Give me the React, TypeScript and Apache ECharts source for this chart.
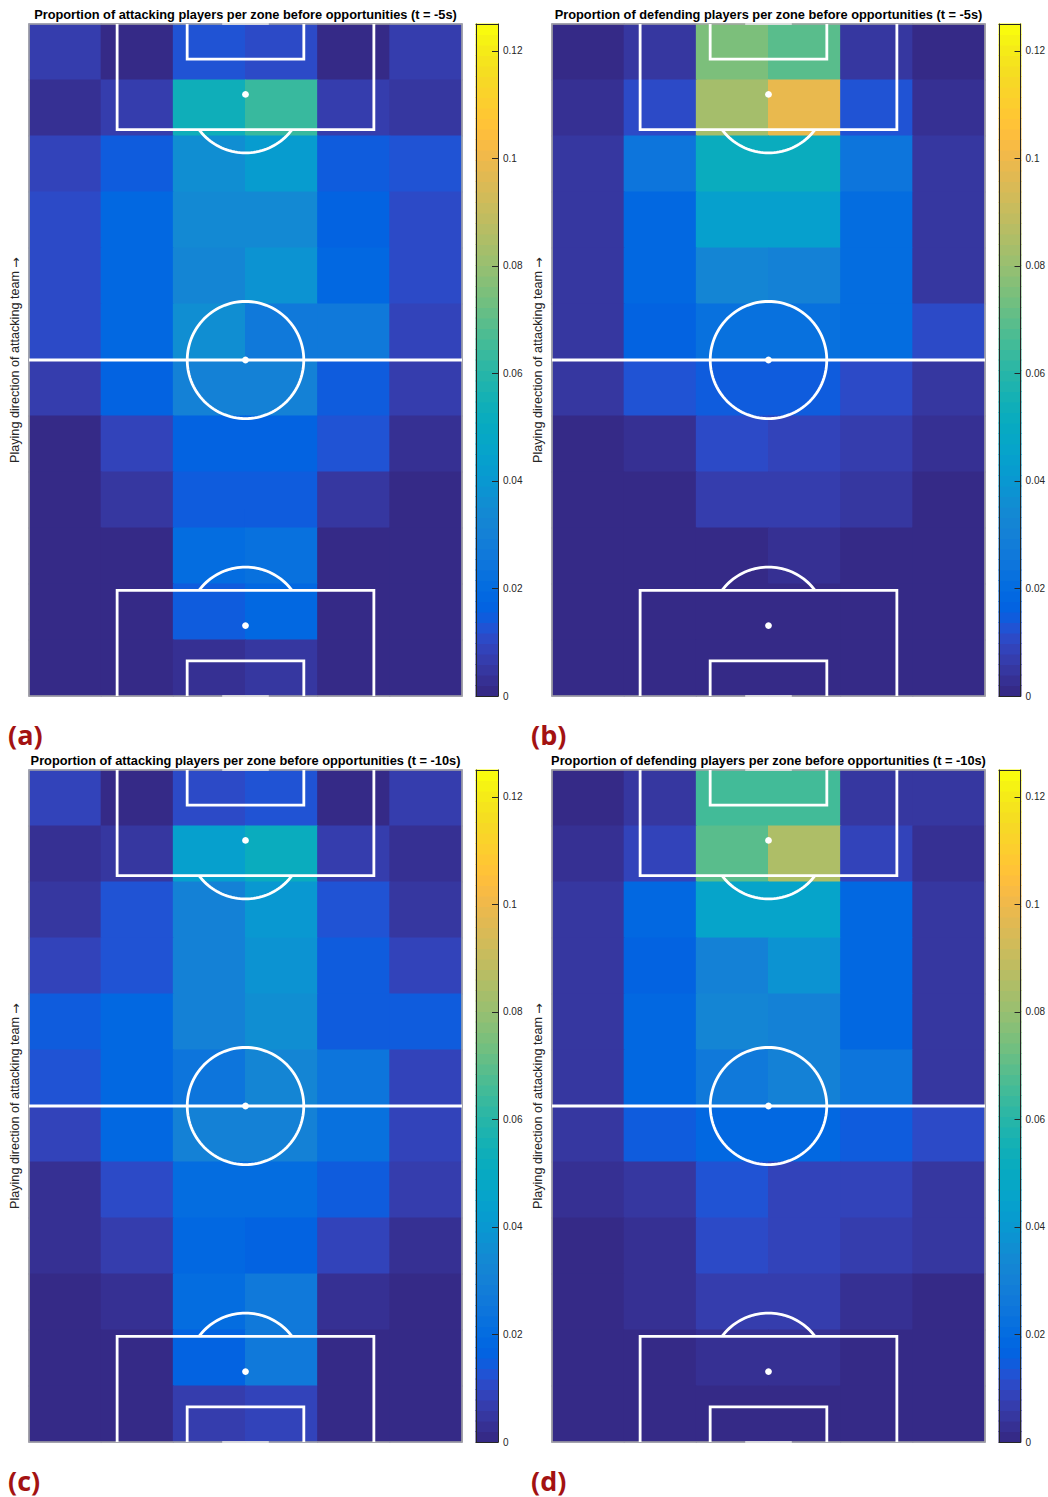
import React, { useEffect, useRef } from "react";
import * as echarts from "echarts";

// Zones across the pitch (left touchline -> right touchline)
const ZONE_COLUMNS = ["1", "2", "3", "4", "5", "6"];
// Zones along the pitch, listed from the opposition goal (top) to the own goal (bottom)
const ZONE_ROW_COUNT = 12;

const attackers5s = [
  [0.007, 0.001, 0.013, 0.011, 0.001, 0.007],
  [0.002, 0.007, 0.054, 0.064, 0.007, 0.004],
  [0.009, 0.014, 0.036, 0.042, 0.014, 0.013],
  [0.011, 0.018, 0.034, 0.035, 0.017, 0.011],
  [0.011, 0.019, 0.032, 0.039, 0.018, 0.011],
  [0.011, 0.019, 0.036, 0.026, 0.026, 0.009],
  [0.006, 0.016, 0.030, 0.030, 0.014, 0.007],
  [0.001, 0.009, 0.016, 0.016, 0.013, 0.003],
  [0.001, 0.004, 0.014, 0.014, 0.005, 0.001],
  [0.001, 0.001, 0.021, 0.022, 0.001, 0.001],
  [0.001, 0.001, 0.014, 0.019, 0.001, 0.001],
  [0.001, 0.001, 0.003, 0.004, 0.001, 0.001],
];

const defenders5s = [
  [0.001, 0.004, 0.075, 0.070, 0.004, 0.001],
  [0.003, 0.011, 0.083, 0.099, 0.013, 0.003],
  [0.005, 0.024, 0.052, 0.052, 0.024, 0.005],
  [0.005, 0.018, 0.044, 0.044, 0.021, 0.005],
  [0.004, 0.018, 0.032, 0.030, 0.021, 0.004],
  [0.004, 0.016, 0.022, 0.022, 0.020, 0.010],
  [0.005, 0.013, 0.014, 0.014, 0.011, 0.004],
  [0.001, 0.003, 0.011, 0.009, 0.006, 0.003],
  [0.001, 0.001, 0.007, 0.007, 0.005, 0.001],
  [0.001, 0.001, 0.001, 0.003, 0.001, 0.001],
  [0.001, 0.001, 0.001, 0.001, 0.001, 0.001],
  [0.001, 0.001, 0.001, 0.001, 0.001, 0.001],
];

const attackers10s = [
  [0.009, 0.001, 0.011, 0.013, 0.001, 0.007],
  [0.003, 0.004, 0.043, 0.052, 0.007, 0.003],
  [0.005, 0.013, 0.030, 0.040, 0.013, 0.005],
  [0.009, 0.013, 0.030, 0.038, 0.014, 0.009],
  [0.014, 0.018, 0.030, 0.036, 0.014, 0.014],
  [0.013, 0.018, 0.024, 0.032, 0.024, 0.009],
  [0.009, 0.018, 0.030, 0.030, 0.022, 0.009],
  [0.003, 0.011, 0.021, 0.021, 0.014, 0.007],
  [0.003, 0.007, 0.018, 0.017, 0.009, 0.003],
  [0.001, 0.003, 0.021, 0.026, 0.003, 0.001],
  [0.001, 0.001, 0.016, 0.026, 0.001, 0.001],
  [0.001, 0.001, 0.006, 0.009, 0.001, 0.001],
];

const defenders10s = [
  [0.001, 0.004, 0.066, 0.066, 0.004, 0.004],
  [0.003, 0.009, 0.070, 0.085, 0.009, 0.003],
  [0.004, 0.018, 0.046, 0.046, 0.019, 0.004],
  [0.005, 0.016, 0.030, 0.038, 0.019, 0.005],
  [0.005, 0.018, 0.032, 0.030, 0.018, 0.005],
  [0.005, 0.018, 0.026, 0.030, 0.024, 0.005],
  [0.005, 0.014, 0.018, 0.018, 0.014, 0.010],
  [0.003, 0.005, 0.013, 0.009, 0.009, 0.004],
  [0.001, 0.003, 0.011, 0.008, 0.007, 0.004],
  [0.001, 0.003, 0.007, 0.007, 0.003, 0.001],
  [0.001, 0.001, 0.003, 0.003, 0.001, 0.001],
  [0.001, 0.001, 0.001, 0.001, 0.001, 0.001],
];

const PANEL_VALUES = [attackers5s, defenders5s, attackers10s, defenders10s];
const PANEL_TITLES = [
  "Proportion of attacking players per zone before opportunities (t = -5s)",
  "Proportion of defending players per zone before opportunities (t = -5s)",
  "Proportion of attacking players per zone before opportunities (t = -10s)",
  "Proportion of defending players per zone before opportunities (t = -10s)",
];
const PANEL_TAGS = ["(a)", "(b)", "(c)", "(d)"];
const Y_AXIS_NAME = "Playing direction of attacking team ";
const Y_AXIS_ARROW = "\u2192";

// Colour scale
const COLOR_MIN = 0;
const COLOR_MAX = 0.125;
const COLOR_TICK_STEP = 0.02;

// MATLAB parula, 64 entries
const PARULA: number[][] = [
  [0.2081, 0.1663, 0.5292], [0.2116, 0.1898, 0.5777], [0.2123, 0.2138, 0.627], [0.2081, 0.2386, 0.6771],
  [0.1959, 0.2645, 0.7279], [0.1707, 0.2919, 0.7792], [0.1253, 0.3242, 0.8303], [0.0591, 0.3598, 0.8683],
  [0.0117, 0.3875, 0.882], [0.006, 0.4086, 0.8828], [0.0165, 0.4266, 0.8786], [0.0329, 0.443, 0.872],
  [0.0498, 0.4586, 0.8641], [0.0629, 0.4737, 0.8554], [0.0723, 0.4887, 0.8467], [0.0779, 0.504, 0.8384],
  [0.0793, 0.52, 0.8312], [0.0749, 0.5375, 0.8263], [0.0641, 0.557, 0.824], [0.0488, 0.5772, 0.8228],
  [0.0343, 0.5966, 0.8199], [0.0265, 0.6137, 0.8135], [0.0239, 0.6287, 0.8038], [0.0231, 0.6418, 0.7913],
  [0.0228, 0.6535, 0.7768], [0.0267, 0.6642, 0.7607], [0.0384, 0.6743, 0.7436], [0.059, 0.6838, 0.7254],
  [0.0843, 0.6928, 0.7062], [0.1133, 0.7015, 0.6859], [0.1453, 0.7098, 0.6646], [0.1801, 0.7177, 0.6424],
  [0.2178, 0.725, 0.6193], [0.2586, 0.7317, 0.5954], [0.3022, 0.7376, 0.5712], [0.3482, 0.7424, 0.5473],
  [0.3953, 0.7459, 0.5244], [0.442, 0.7481, 0.5033], [0.4871, 0.7491, 0.484], [0.53, 0.7491, 0.4661],
  [0.5709, 0.7485, 0.4494], [0.6099, 0.7473, 0.4337], [0.6473, 0.7456, 0.4188], [0.6834, 0.7435, 0.4044],
  [0.7184, 0.7411, 0.3905], [0.7525, 0.7384, 0.3768], [0.7858, 0.7356, 0.3633], [0.8185, 0.7327, 0.3498],
  [0.8507, 0.7299, 0.336], [0.8824, 0.7274, 0.3217], [0.9139, 0.7258, 0.3063], [0.945, 0.7261, 0.2886],
  [0.9739, 0.7314, 0.2666], [0.9938, 0.7455, 0.2403], [0.999, 0.7653, 0.2164], [0.9955, 0.7861, 0.1967],
  [0.988, 0.8066, 0.1794], [0.9789, 0.8271, 0.1633], [0.9697, 0.8481, 0.1475], [0.9626, 0.8705, 0.1309],
  [0.9589, 0.8949, 0.1132], [0.9598, 0.9218, 0.0948], [0.9661, 0.9514, 0.0755], [0.9763, 0.9831, 0.0538],
];

// Pitch geometry in metres (x across, y along; own goal at y = 0)
const PITCH_WIDTH = 68;
const PITCH_LENGTH = 105;
const PENALTY_BOX_WIDTH = 40.32;
const PENALTY_BOX_DEPTH = 16.5;
const GOAL_BOX_WIDTH = 18.32;
const GOAL_BOX_DEPTH = 5.5;
const PENALTY_SPOT_DIST = 11;
const CIRCLE_RADIUS = 9.15;
const GOAL_WIDTH = 7.32;

// Page layout (pixels)
const PANEL_ORIGINS = [
  [29, 24],
  [552, 24],
  [29, 770],
  [552, 770],
];
const PLOT_W = 433;
const PLOT_H = 672;
const BAR_OFFSET = 447;
const BAR_W = 22;

const FONT = '"Liberation Sans", Arial, Helvetica, sans-serif';

const toRgb = (c: number[]) =>
  `rgb(${Math.round(c[0] * 255)},${Math.round(c[1] * 255)},${Math.round(c[2] * 255)})`;

// One coloured zone; cells overlap by half a pixel so no seams show between them
function renderCell(_params: any, api: any) {
  const center = api.coord([api.value(0), api.value(1)]);
  const size = api.size([1, 1]);
  return {
    type: "rect",
    shape: {
      x: center[0] - size[0] / 2 - 0.5,
      y: center[1] - size[1] / 2 - 0.5,
      width: size[0] + 1,
      height: size[1] + 1,
    },
    style: { fill: api.visual("color") },
  };
}

function renderPitch(_params: any, api: any) {
  const p = (x: number, y: number) => api.coord([x, y]);
  const white = { stroke: "#ffffff", lineWidth: 2.8, fill: null, lineCap: "butt", lineJoin: "miter" };
  const poly = (pts: number[][]) => ({
    type: "polyline",
    shape: { points: pts.map(([x, y]) => p(x, y)) },
    style: white,
  });
  const ring = (cx: number, cy: number, r: number, a0: number, a1: number, steps: number) => {
    const pts: number[][] = [];
    for (let i = 0; i <= steps; i++) {
      const a = a0 + ((a1 - a0) * i) / steps;
      pts.push([cx + r * Math.cos(a), cy + r * Math.sin(a)]);
    }
    return poly(pts);
  };
  const spot = (x: number, y: number) => {
    const c = p(x, y);
    return { type: "circle", shape: { cx: c[0], cy: c[1], r: 3.4 }, style: { fill: "#ffffff" } };
  };

  const cx = PITCH_WIDTH / 2;
  const mid = PITCH_LENGTH / 2;
  const pbL = cx - PENALTY_BOX_WIDTH / 2;
  const pbR = cx + PENALTY_BOX_WIDTH / 2;
  const gbL = cx - GOAL_BOX_WIDTH / 2;
  const gbR = cx + GOAL_BOX_WIDTH / 2;
  const L = PITCH_LENGTH;
  // angle where the penalty arc meets the box edge
  const arcA = Math.asin((PENALTY_BOX_DEPTH - PENALTY_SPOT_DIST) / CIRCLE_RADIUS);

  const tl = p(0, L);
  const br = p(PITCH_WIDTH, 0);
  const goalTopA = p(cx - GOAL_WIDTH / 2, L);
  const goalTopB = p(cx + GOAL_WIDTH / 2, L);
  const goalBotA = p(cx - GOAL_WIDTH / 2, 0);
  const goalBotB = p(cx + GOAL_WIDTH / 2, 0);

  return {
    type: "group",
    children: [
      {
        type: "rect",
        shape: { x: tl[0], y: tl[1], width: br[0] - tl[0], height: br[1] - tl[1] },
        style: { fill: null, stroke: "#a6a6a6", lineWidth: 1.6 },
      },
      { type: "line", shape: { x1: goalTopA[0], y1: goalTopA[1], x2: goalTopB[0], y2: goalTopB[1] }, style: { stroke: "#ececec", lineWidth: 1.6 } },
      { type: "line", shape: { x1: goalBotA[0], y1: goalBotA[1], x2: goalBotB[0], y2: goalBotB[1] }, style: { stroke: "#ececec", lineWidth: 1.6 } },
      poly([[0, mid], [PITCH_WIDTH, mid]]),
      ring(cx, mid, CIRCLE_RADIUS, 0, Math.PI * 2, 120),
      spot(cx, mid),
      // opposition end
      poly([[pbL, L], [pbL, L - PENALTY_BOX_DEPTH], [pbR, L - PENALTY_BOX_DEPTH], [pbR, L]]),
      poly([[gbL, L], [gbL, L - GOAL_BOX_DEPTH], [gbR, L - GOAL_BOX_DEPTH], [gbR, L]]),
      spot(cx, L - PENALTY_SPOT_DIST),
      ring(cx, L - PENALTY_SPOT_DIST, CIRCLE_RADIUS, -Math.PI / 2 - (Math.PI / 2 - arcA), -Math.PI / 2 + (Math.PI / 2 - arcA), 40),
      // own end
      poly([[pbL, 0], [pbL, PENALTY_BOX_DEPTH], [pbR, PENALTY_BOX_DEPTH], [pbR, 0]]),
      poly([[gbL, 0], [gbL, GOAL_BOX_DEPTH], [gbR, GOAL_BOX_DEPTH], [gbR, 0]]),
      spot(cx, PENALTY_SPOT_DIST),
      ring(cx, PENALTY_SPOT_DIST, CIRCLE_RADIUS, Math.PI / 2 - (Math.PI / 2 - arcA), Math.PI / 2 + (Math.PI / 2 - arcA), 40),
    ],
  };
}

function buildOption() {
  const grids: any[] = [];
  const xAxes: any[] = [];
  const yAxes: any[] = [];
  const series: any[] = [];
  const graphics: any[] = [];
  const colouredIndices: number[] = [];

  const rowNames = Array.from({ length: ZONE_ROW_COUNT }, (_, i) => String(i + 1));
  const levelCount = PARULA.length;
  const levelStep = (COLOR_MAX - COLOR_MIN) / levelCount;
  const levelNames = PARULA.map((_, i) => String(i));
  const levelValues = PARULA.map((_, i) => [0, i, COLOR_MIN + (i + 0.5) * levelStep]);

  PANEL_VALUES.forEach((values, k) => {
    const [left, top] = PANEL_ORIGINS[k];

    // zone proportions
    const gHeat = grids.push({ left, top, width: PLOT_W, height: PLOT_H }) - 1;
    const xHeat = xAxes.push({ type: "category", data: ZONE_COLUMNS, gridIndex: gHeat, show: false }) - 1;
    const yHeat = yAxes.push({ type: "category", data: rowNames, gridIndex: gHeat, show: false }) - 1;
    const cells: number[][] = [];
    values.forEach((row, r) =>
      row.forEach((v, c) => cells.push([c, ZONE_ROW_COUNT - 1 - r, v]))
    );
    colouredIndices.push(
      series.push({
        type: "custom",
        xAxisIndex: xHeat,
        yAxisIndex: yHeat,
        data: cells,
        dimensions: ["x", "y", "value"],
        encode: { x: 0, y: 1 },
        renderItem: renderCell,
        silent: true,
        z: 2,
      }) - 1
    );

    // pitch markings on a metric grid
    const gPitch = grids.push({ left, top, width: PLOT_W, height: PLOT_H }) - 1;
    const xPitch = xAxes.push({ type: "value", min: 0, max: PITCH_WIDTH, gridIndex: gPitch, show: false }) - 1;
    const yPitch = yAxes.push({ type: "value", min: 0, max: PITCH_LENGTH, gridIndex: gPitch, show: false }) - 1;
    series.push({
      type: "custom",
      xAxisIndex: xPitch,
      yAxisIndex: yPitch,
      data: [[0, 0]],
      renderItem: renderPitch,
      silent: true,
      clip: false,
      z: 3,
    });

    // colour bar
    const barLeft = left + BAR_OFFSET;
    const gBar = grids.push({ left: barLeft, top, width: BAR_W, height: PLOT_H }) - 1;
    const xBar = xAxes.push({ type: "category", data: ["bar"], gridIndex: gBar, show: false }) - 1;
    const yBar = yAxes.push({ type: "category", data: levelNames, gridIndex: gBar, show: false }) - 1;
    colouredIndices.push(
      series.push({
        type: "custom",
        xAxisIndex: xBar,
        yAxisIndex: yBar,
        data: levelValues,
        dimensions: ["x", "y", "value"],
        encode: { x: 0, y: 1 },
        renderItem: renderCell,
        silent: true,
        z: 2,
      }) - 1
    );

    const gTicks = grids.push({ left: barLeft, top, width: BAR_W, height: PLOT_H }) - 1;
    const frameLine = { show: true, onZero: false, lineStyle: { color: "#262626", width: 1 } };
    const bare = { axisTick: { show: false }, axisLabel: { show: false }, splitLine: { show: false } };
    xAxes.push({ type: "value", min: 0, max: 1, gridIndex: gTicks, position: "bottom", z: 10, axisLine: frameLine, ...bare });
    xAxes.push({ type: "value", min: 0, max: 1, gridIndex: gTicks, position: "top", z: 10, axisLine: frameLine, ...bare });
    yAxes.push({ type: "value", min: COLOR_MIN, max: COLOR_MAX, gridIndex: gTicks, position: "left", z: 10, axisLine: frameLine, ...bare });
    yAxes.push({
      type: "value", min: COLOR_MIN, max: COLOR_MAX, interval: COLOR_TICK_STEP, gridIndex: gTicks,
      position: "right", z: 10,
      axisLine: frameLine,
      axisTick: { show: true, inside: true, length: 6, lineStyle: { color: "#262626", width: 1 } },
      axisLabel: {
        show: true, margin: 5, fontSize: 10, color: "#262626", fontFamily: FONT,
        showMaxLabel: false,
        formatter: (v: number) => String(Number(v.toFixed(3))),
      },
      splitLine: { show: false },
    });

    // texts
    graphics.push({
      type: "text",
      x: left + PLOT_W / 2,
      y: top - 10,
      style: {
        text: PANEL_TITLES[k],
        font: `bold 12.8px ${FONT}`,
        fill: "#000000",
        textAlign: "center",
        textVerticalAlign: "middle",
      },
    });
    graphics.push({
      type: "text",
      x: left - 14,
      y: top + PLOT_H / 2,
      rotation: Math.PI / 2,
      style: {
        text: `${Y_AXIS_NAME}{arrow|${Y_AXIS_ARROW}}`,
        font: `12.6px ${FONT}`,
        fill: "#262626",
        textAlign: "center",
        textVerticalAlign: "middle",
        rich: {
          arrow: { fontFamily: '"DejaVu Sans", sans-serif', fontSize: 12.6, fill: "#262626" },
        },
      },
    });
    graphics.push({
      type: "text",
      x: left - 21,
      y: top + PLOT_H + 38,
      style: {
        text: PANEL_TAGS[k],
        font: 'bold 27px "Open Sans", "DejaVu Sans", sans-serif',
        fill: "#a31212",
        textAlign: "left",
        textVerticalAlign: "middle",
      },
    });
  });

  return {
    animation: false,
    backgroundColor: "#ffffff",
    grid: grids,
    xAxis: xAxes,
    yAxis: yAxes,
    visualMap: {
      type: "piecewise",
      show: false,
      dimension: 2,
      seriesIndex: colouredIndices,
      pieces: PARULA.map((c, i) =>
        i === levelCount - 1
          ? { gte: COLOR_MIN + i * levelStep, lte: COLOR_MAX + 1, color: toRgb(c) }
          : { gte: COLOR_MIN + i * levelStep, lt: COLOR_MIN + (i + 1) * levelStep, color: toRgb(c) }
      ),
    },
    series,
    graphic: graphics,
  };
}

export default function App() {
  const ref = useRef<HTMLDivElement>(null);
  useEffect(() => {
    if (!ref.current) return;
    const chart = echarts.init(ref.current, null, { renderer: "svg" });
    chart.setOption(buildOption() as any);
    return () => chart.dispose();
  }, []);
  return (
    <div
      ref={ref}
      style={{ position: "absolute", left: 0, top: 0, width: 1048, height: 1497, background: "#ffffff" }}
    />
  );
}
